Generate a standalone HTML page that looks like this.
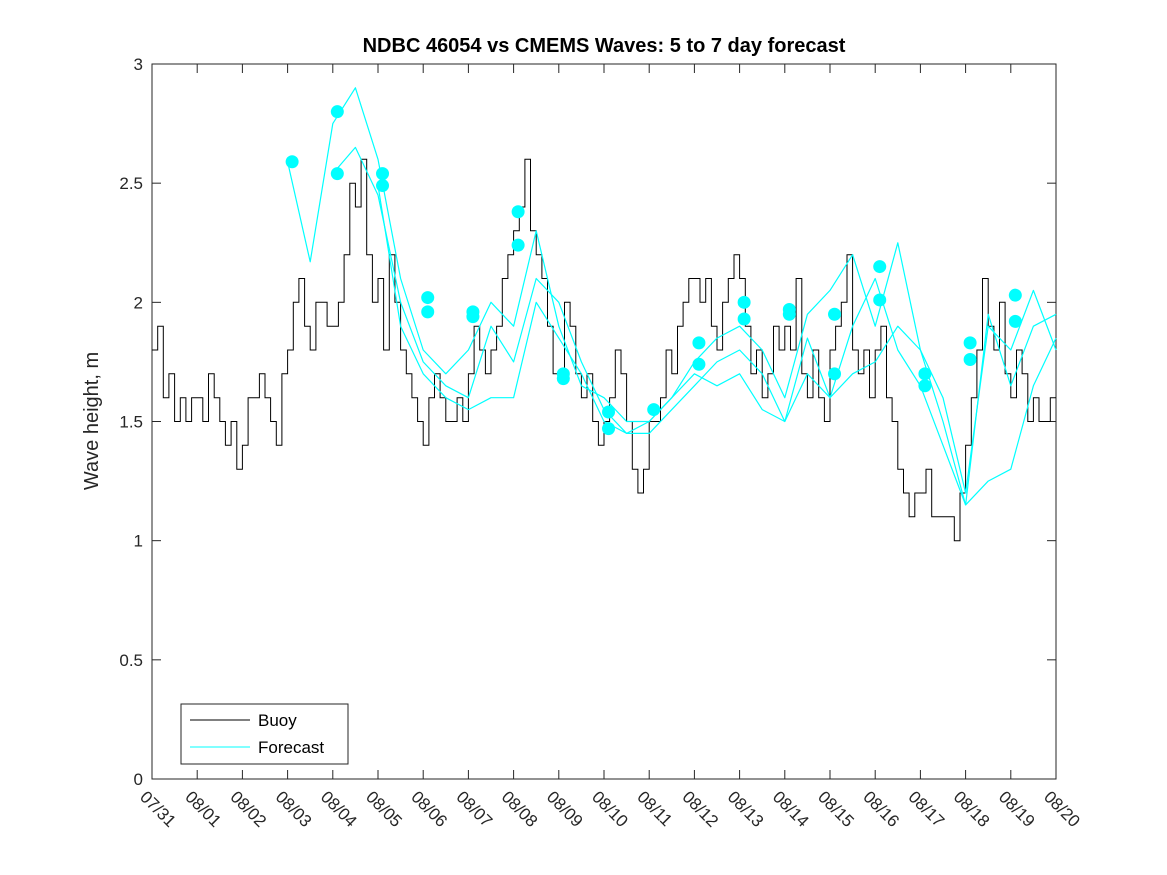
<!DOCTYPE html>
<html><head><meta charset="utf-8"><style>
html,body{margin:0;padding:0;background:#fff;}
svg{display:block;font-family:"Liberation Sans","DejaVu Sans",sans-serif;}
</style></head><body>
<svg id="chart" width="1167" height="875" viewBox="0 0 1167 875"></svg>
<script>
// ---- data ----
const dayLabels = ["07/31","08/01","08/02","08/03","08/04","08/05","08/06","08/07","08/08","08/09","08/10","08/11","08/12","08/13","08/14","08/15","08/16","08/17","08/18","08/19","08/20"];
const yTicks = [0,0.5,1,1.5,2,2.5,3];
const yTickLabels = ["0","0.5","1","1.5","2","2.5","3"];
// buoy values every 3 hours starting 07/31 00:00
const buoy = [
1.8,1.9,1.6,1.7,1.5,1.6,1.5,1.6,
1.6,1.5,1.7,1.6,1.5,1.4,1.5,1.3,
1.4,1.6,1.6,1.7,1.6,1.5,1.4,1.7,
1.8,2.0,2.1,1.9,1.8,2.0,2.0,1.9,
1.9,2.0,2.2,2.5,2.4,2.6,2.2,2.0,
2.1,1.8,2.2,2.0,1.8,1.7,1.6,1.5,
1.4,1.6,1.7,1.6,1.5,1.5,1.6,1.5,
1.7,1.9,1.8,1.7,1.8,1.9,2.1,2.2,
2.3,2.4,2.6,2.3,2.2,2.1,1.9,1.7,
1.7,2.0,1.9,1.7,1.6,1.7,1.5,1.4,
1.5,1.6,1.8,1.7,1.5,1.3,1.2,1.3,
1.5,1.5,1.6,1.8,1.7,1.9,2.0,2.1,
2.1,2.0,2.1,1.9,1.8,2.0,2.1,2.2,
2.1,1.9,1.7,1.8,1.6,1.7,1.9,1.8,
1.9,1.8,2.1,1.7,1.6,1.8,1.6,1.5,
1.8,1.9,2.0,2.2,1.8,1.7,1.8,1.6,
1.8,1.9,1.6,1.5,1.3,1.2,1.1,1.2,
1.2,1.3,1.1,1.1,1.1,1.1,1.0,1.2,
1.4,1.6,1.8,2.1,1.9,1.8,2.0,1.7,
1.6,1.8,1.7,1.5,1.6,1.5,1.5,1.6];
// forecast series every 12 h starting day 3.0
const forecastA = [2.59,2.17,2.75,2.9,2.6,2.1,1.8,1.7,1.8,2.0,1.9,2.3,1.9,1.65,1.6,1.5,1.5,1.6,1.75,1.85,1.9,1.8,1.6,1.95,2.05,2.2,1.9,2.25,1.8,1.6,1.2,1.9,1.8,2.05,1.8];
const forecastB = [null,null,2.54,2.65,2.45,2.0,1.75,1.65,1.6,1.9,1.75,2.1,2.0,1.75,1.55,1.45,1.45,1.55,1.65,1.75,1.8,1.7,1.5,1.85,1.6,1.9,2.1,1.8,1.65,1.4,1.15,1.95,1.65,1.9,1.95];
const forecastC = [null,null,null,null,2.49,1.9,1.7,1.6,1.55,1.6,1.6,2.0,1.85,1.7,1.5,1.45,1.5,1.6,1.7,1.65,1.7,1.55,1.5,1.7,1.6,1.7,1.75,1.9,1.8,1.5,1.15,1.25,1.3,1.65,1.85];
const dotDays = [3.1,4.1,4.1,5.1,5.1,6.1,6.1,7.1,7.1,8.1,8.1,9.1,9.1,10.1,10.1,11.1,12.1,12.1,13.1,13.1,14.1,14.1,15.1,15.1,16.1,16.1,17.1,17.1,18.1,18.1,19.1,19.1];
const dotValues = [2.59,2.80,2.54,2.54,2.49,2.02,1.96,1.96,1.94,2.38,2.24,1.70,1.68,1.54,1.47,1.55,1.83,1.74,2.00,1.93,1.97,1.95,1.95,1.70,2.15,2.01,1.70,1.65,1.83,1.76,2.03,1.92];

// ---- axes ----
const L=152,R=1056,T=64,B=779;
const xs = d => L + (R-L)*d/20;
const ys = v => B - (B-T)*v/3;
const NS="http://www.w3.org/2000/svg";
const svg=document.getElementById('chart');
function mk(tag,attrs,parent){const e=document.createElementNS(NS,tag);for(const k in attrs)e.setAttribute(k,attrs[k]);(parent||svg).appendChild(e);return e;}

const frame=mk('rect',{x:L,y:T,width:R-L,height:B-T,fill:'#fff',stroke:'#262626','stroke-width':1});



const xg=mk('g',{});


dayLabels.forEach((lab,i)=>{
  const x=xs(i);
  mk('line',{x1:x,y1:B,x2:x,y2:B-9,stroke:'#262626'},xg);
  mk('line',{x1:x,y1:T,x2:x,y2:T+9,stroke:'#262626'},xg);
  const t=mk('text',{x:0,y:0,'font-size':17,fill:'#262626',transform:`translate(${x-13},${B+19}) rotate(45)`},xg);
  t.textContent=lab;
  
  
});
const yg=mk('g',{});


yTicks.forEach((v,i)=>{
  const y=ys(v);
  mk('line',{x1:L,y1:y,x2:L+9,y2:y,stroke:'#262626'},yg);
  mk('line',{x1:R,y1:y,x2:R-9,y2:y,stroke:'#262626'},yg);
  const t=mk('text',{x:L-9,y:y+6,'font-size':17,fill:'#262626','text-anchor':'end'},yg);
  t.textContent=yTickLabels[i];
  
  
});
const yt=mk('text',{x:0,y:0,'font-size':20,fill:'#262626','text-anchor':'middle',transform:'translate(98,421) rotate(-90)'});
yt.textContent='Wave height, m';


const tt=mk('text',{x:604,y:52,'font-size':20,'font-weight':'bold',fill:'#000','text-anchor':'middle'});
tt.textContent='NDBC 46054 vs CMEMS Waves: 5 to 7 day forecast';



// ---- series ----
let d='';
buoy.forEach((v,i)=>{const x=xs(i/8),y=ys(v);d+=(i?`H${x.toFixed(1)}V${y.toFixed(1)}`:`M${x.toFixed(1)},${y.toFixed(1)}`);});
d+=`H${xs(20)}`;
const bl=mk('path',{d:d,fill:'none',stroke:'#000','stroke-width':1});



[forecastA,forecastB,forecastC].forEach((arr,si)=>{
  let p='',pen=false;
  arr.forEach((v,i)=>{
    if(v===null){pen=false;return;}
    const x=xs(3+i*0.5).toFixed(1),y=ys(v).toFixed(1);
    p+=(pen?'L':'M')+x+','+y;pen=true;
  });
  const fl=mk('path',{d:p,fill:'none',stroke:'#00ffff','stroke-width':1.2,'stroke-linejoin':'round'});
  
  
});
dotDays.forEach((dd,i)=>{
  const c=mk('circle',{cx:xs(dd),cy:ys(dotValues[i]),r:6.5,fill:'#00ffff'});
  
  
});

// ---- legend ----
const lg=mk('g',{});


mk('rect',{x:181,y:704,width:167,height:60,fill:'#fff',stroke:'#262626'},lg);
mk('line',{x1:190,y1:720,x2:250,y2:720,stroke:'#000'},lg);
mk('line',{x1:190,y1:747,x2:250,y2:747,stroke:'#00ffff'},lg);
const l1=mk('text',{x:258,y:726,'font-size':17,fill:'#000'},lg);l1.textContent='Buoy';


const l2=mk('text',{x:258,y:753,'font-size':17,fill:'#000'},lg);l2.textContent='Forecast';


</script>
</body></html>
